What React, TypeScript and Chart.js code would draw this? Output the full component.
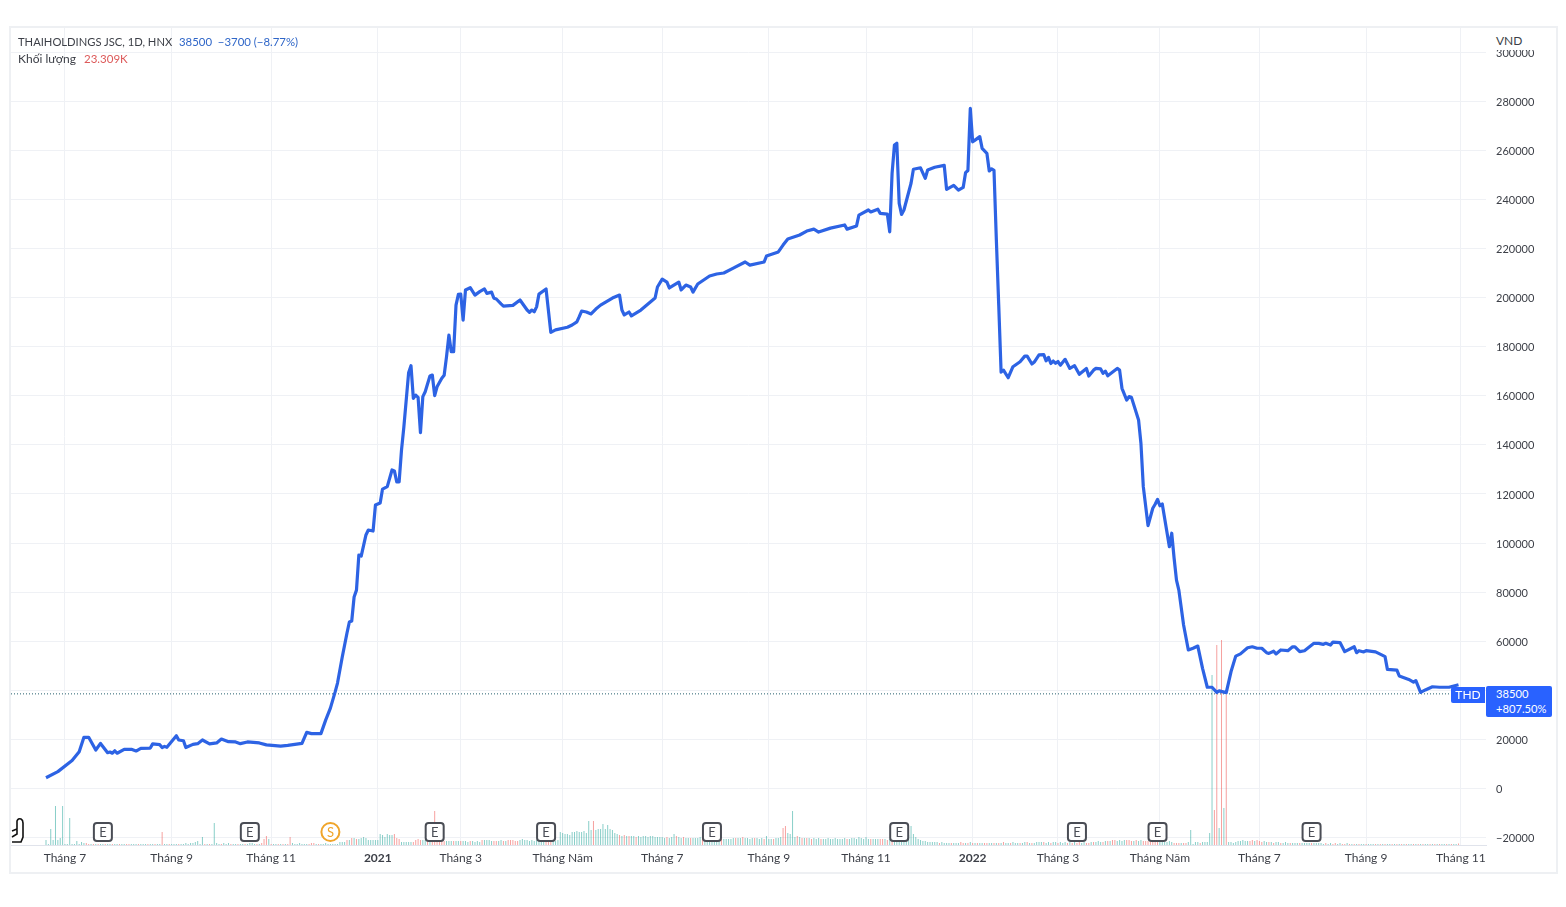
import { Chart, registerables } from "chart.js";
import { useEffect, useRef } from "react";

Chart.register(...registerables);

// giá đóng cửa: số thứ tự phiên và giá (VND)
const priceBars = [
  0, 5, 11, 14, 16, 18, 21, 23, 26, 27, 28, 29, 30, 33, 36, 38, 40, 44, 45, 48, 49, 50, 51, 55, 56, 58, 59, 62, 64, 66, 69, 72, 74, 77, 80, 82, 85, 90, 93, 99,
  102, 108, 110, 112, 116, 118, 120, 122, 123, 125, 127, 128, 129, 130, 131, 132, 133, 135, 136, 138, 139, 141, 142, 144, 146, 147, 148, 149, 150, 151, 153, 154, 155, 156, 157, 158, 159, 160, 162, 163,
  164, 165, 167, 168, 169, 170, 171, 172, 173, 174, 175, 176, 177, 179, 181, 183, 185, 186, 188, 189, 190, 192, 193, 197, 200, 203, 204, 205, 206, 207, 208, 211, 213, 215, 220, 222, 224, 225, 226, 228,
  230, 232, 234, 239, 242, 243, 244, 246, 247, 251, 257, 258, 260, 262, 263, 267, 268, 270, 272, 273, 275, 280, 283, 286, 290, 295, 297, 303, 304, 309, 311, 313, 318, 321, 324, 326, 331, 337, 338, 342,
  343, 347, 348, 351, 352, 355, 356, 357, 358, 359, 360, 361, 362, 365, 366, 369, 371, 372, 375, 379, 380, 383, 385, 387, 388, 389, 390, 391, 392, 394, 395, 397, 398, 399, 400, 401, 402, 403, 404, 406,
  408, 411, 413, 414, 416, 417, 419, 421, 422, 423, 424, 425, 426, 427, 428, 430, 432, 434, 436, 439, 440, 442, 443, 445, 446, 447, 448, 452, 453, 454, 456, 457, 458, 461, 462, 463, 465, 467, 468, 469,
  470, 471, 474, 475, 476, 477, 478, 480, 482, 484, 486, 488, 490, 492, 494, 495, 498, 500, 502, 504, 507, 509, 511, 513, 515, 516, 518, 519, 521, 524, 526, 527, 529, 531, 535, 537, 539, 540, 542, 543,
  546, 548, 552, 553, 554, 556, 557, 561, 564, 565, 566, 570, 571, 575, 577, 578, 580, 582, 585, 588, 592, 596,
];
const priceValues = [
  4300, 6800, 11300, 14900, 20800, 20800, 15600, 18300, 14500, 14800, 14300, 15300, 14300, 15900, 15900, 15200, 16300, 16400, 18100, 17800, 16600, 17100, 16700, 21400, 19700, 19400, 16600, 17900, 18200, 19700, 18100, 18500, 20100, 19000, 18900, 18200, 18900, 18500, 17700, 17200,
  17500, 18300, 22800, 22300, 22300, 27800, 32700, 39300, 42900, 53500, 63300, 67800, 68200, 78000, 80800, 95100, 94700, 103300, 105300, 104900, 115500, 116300, 122000, 123000, 129800, 129400, 124900, 124900, 137900, 147400, 169400, 172300, 159000, 160300, 159400, 145000, 159700, 161700, 168100, 168500,
  160100, 163700, 167200, 168400, 176000, 184800, 178000, 178000, 197000, 201400, 201500, 190900, 203200, 204100, 201100, 202500, 203600, 201800, 202300, 199800, 199500, 197500, 196600, 196900, 199100, 195000, 194100, 195000, 194300, 196300, 201500, 203600, 185900, 186900, 188000, 188900, 190200, 192300, 194600, 194200,
  193400, 195400, 197000, 199900, 201100, 195000, 193000, 194200, 192600, 195000, 199900, 204400, 207600, 206400, 204000, 206400, 203200, 205200, 204400, 202300, 205600, 208900, 209700, 210100, 212100, 214600, 213300, 214600, 217000, 218700, 221500, 224000, 225600, 227200, 228000, 226800, 228400, 229700, 228000, 229300,
  233700, 235800, 235000, 236100, 234400, 234100, 226900, 250700, 262300, 263000, 238500, 234000, 235800, 246700, 252400, 253000, 248700, 252100, 253200, 254000, 244200, 245800, 243900, 245000, 251000, 251900, 277200, 263600, 264300, 265700, 260900, 258900, 251700, 252600, 252000, 223500, 197000, 169700, 170500, 167400,
  171900, 173900, 176200, 176200, 173000, 173800, 176700, 176800, 174300, 175700, 173200, 174200, 173300, 174000, 172500, 174900, 171200, 172300, 168800, 171200, 168100, 170500, 171200, 171000, 169200, 170100, 168200, 171200, 170500, 163100, 158300, 159700, 159400, 150200, 140700, 123000, 107100, 114200, 115800, 117800,
  115200, 115900, 98500, 104000, 93800, 84900, 80800, 66600, 56400, 57100, 58000, 48900, 41200, 41200, 39100, 39700, 39000, 47500, 53900, 54800, 57300, 57700, 57100, 57100, 55300, 55000, 55900, 54800, 56400, 56100, 57700, 57700, 55700, 56100, 59100, 59100, 58700, 59100, 58400, 59600,
  59400, 55700, 57700, 55300, 56100, 55600, 56100, 55600, 54200, 53700, 48500, 48200, 45800, 44400, 43300, 43900, 39100, 40100, 41400, 41200, 41200, 42200,
];

// khối lượng theo từng phiên (nghìn cp), số âm là phiên giảm
const volumes = [
  75, 15, 240, 75, 585, 75, 105, 585, 15, 15,
  405, 15, 15, 60, 15, 45, 30, -30, -15, 15,
  -15, 15, -15, 15, 15, -15, 15, 15, -15, 15,
  15, -15, 15, 15, -15, -15, 15, 15, 15, -15,
  15, 15, 15, -15, 15, 15, -15, 15, 15, -195,
  15, 15, -15, 15, 15, 15, -15, 15, 15, 30,
  15, 30, 30, 45, 60, 15, 120, -15, 15, -15,
  15, 330, 30, 15, -15, 30, 15, 30, -15, 15,
  15, -15, 15, 15, -15, 15, 30, 30, 15, -15,
  15, -30, -90, -135, 90, -15, 15, 15, -15, 15,
  -15, 15, -15, -120, 30, 15, 15, 30, 15, 15,
  15, -15, -30, -30, 15, -15, 15, 15, 30, 15,
  15, 15, 15, 15, 45, 45, 45, -75, 75, -105,
  105, -90, 90, 105, 120, 105, 75, 75, 75, 75,
  75, 165, 150, 120, 165, 150, 150, -165, -105, -90,
  45, 45, 45, 45, 45, -45, -75, -90, -75, 75,
  75, -60, 60, -60, -510, -60, -60, -60, -60, 60,
  60, 60, -60, 60, 60, -60, 60, 60, 45, -60,
  60, 45, 60, 45, -75, 75, 75, 75, 60, -60,
  -60, 60, 75, -60, 60, -75, -75, -75, -60, -60,
  75, 90, 75, 75, 60, 75, 60, 75, 75, 60,
  60, -60, -60, -60, 60, 60, 75, 195, 180, 165,
  165, 150, 195, 195, 210, 195, 195, 210, 180, 360,
  225, -360, 225, 240, 240, 315, 240, 300, 240, 225,
  180, 165, -150, 135, -150, 135, -135, 135, 135, -120,
  135, 120, 135, 135, 120, 135, 135, 120, 120, 120,
  120, 105, -120, 105, 120, 165, -135, 120, 105, -120,
  105, 105, -105, 105, 105, 105, 120, -105, 105, 105,
  105, 90, 90, 90, 90, -90, 90, 90, 90, 90,
  105, -105, 105, 105, -120, 105, 105, 90, 105, -105,
  105, 90, 105, -90, 135, 90, 90, -90, 105, 105,
  120, -255, -285, 180, 165, 510, 120, -135, 120, -105,
  105, -105, 105, -90, 105, 90, 105, -90, 90, 90,
  105, 90, 90, 105, 90, 90, 90, 105, -90, 90,
  105, 105, 90, 120, 105, 90, 120, 90, -90, 90,
  90, 90, -90, -90, 90, -75, 90, -75, 75, 90,
  75, 75, 60, 90, 150, 285, 165, 120, 90, 75,
  60, 60, 45, 45, 45, 45, 45, -30, 45, 30,
  30, 30, -30, 30, 30, 30, -45, -30, 30, -30,
  45, -30, 30, -30, 30, 30, -30, -30, 30, 30,
  -30, 30, -30, 30, -45, 30, 30, -30, 45, 30,
  30, -30, 30, 45, -45, 30, -30, 30, 45, 45,
  45, -45, 30, 45, -30, 45, 45, -30, 45, 30,
  45, -30, 45, -30, 45, -30, -45, 30, 45, -30,
  -30, 45, -45, 45, 60, 45, -45, 60, -60, 60,
  -75, -75, 60, 75, 60, 75, -75, -75, -60, 60,
  -75, 60, 75, -60, -60, -60, -60, -60, -60, -60,
  45, 45, 45, 45, 60, 45, -30, -30, -30, 30,
  -30, -30, 45, 225, 15, 45, 45, -30, 45, 45,
  45, 180, 2550, -525, -3000, 255, -3075, 555, -2250, 45,
  45, 30, 45, 60, 60, 75, 60, 60, -60, -75,
  60, -75, -60, -45, 60, 45, -45, 45, -30, 45,
  45, -30, 30, 45, 30, -30, 30, 30, 30, -30,
  30, 30, 30, 30, -30, 30, 30, 30, 30, 15,
  -30, 15, 30, -15, -30, 15, 30, -15, -15, 30,
  -15, 15, -15, 15, -15, 15, 15, -15, 15, 15,
  15, -15, 15, -15, 15, -15, 15, 15, -15, 15,
  -15, 15, -15, 15, -15, 15, 15, -15, 15, -15,
  15, -15, 15, 15, -15, 15, -15, 15, -15, 15,
  15, -15, 15, -15, 15, 15, -23.309,
];

const xTickBars = [8, 53, 95, 140, 175, 218, 260, 305, 346, 391, 427, 470, 512, 557, 597];
const xTickLabels = ["Tháng 7", "Tháng 9", "Tháng 11", "2021", "Tháng 3", "Tháng Năm", "Tháng 7", "Tháng 9", "Tháng 11", "2022", "Tháng 3", "Tháng Năm", "Tháng 7", "Tháng 9", "Tháng 11"];
const yTicks = [-20000, 0, 20000, 40000, 60000, 80000, 100000, 120000, 140000, 160000, 180000, 200000, 220000, 240000, 260000, 280000, 300000];

const earningsBars = [24, 86, 164, 211, 281, 360, 435, 469, 534];
const splitBars = [120];

const lastPrice = 38500;
const xMin = -14.77;
const xMax = 607.6;

const FONT = 'Lato, "Noto Sans", sans-serif';
const BLUE = "#2962ff";

// vẽ các nhãn sự kiện E và S trên trục thời gian
const eventsPlugin = {
  id: "events",
  afterDatasetsDraw(chart: any) {
    const { ctx, chartArea, scales } = chart;
    const cy = chartArea.bottom - 13;
    ctx.save();
    ctx.textAlign = "center";
    ctx.textBaseline = "middle";
    ctx.font = `13px ${FONT}`;
    earningsBars.forEach((b) => {
      const cx = scales.x.getPixelForValue(b);
      ctx.beginPath();
      ctx.roundRect(cx - 9, cy - 9, 18, 18, 3);
      ctx.fillStyle = "#fff";
      ctx.fill();
      ctx.lineWidth = 2;
      ctx.strokeStyle = "#4a4d55";
      ctx.stroke();
      ctx.fillStyle = "#4a4d55";
      ctx.fillText("E", cx, cy + 0.5);
    });
    splitBars.forEach((b) => {
      const cx = scales.x.getPixelForValue(b);
      ctx.beginPath();
      ctx.arc(cx, cy, 9, 0, Math.PI * 2);
      ctx.fillStyle = "#fff";
      ctx.fill();
      ctx.lineWidth = 2;
      ctx.strokeStyle = "#f0a52a";
      ctx.stroke();
      ctx.fillStyle = "#f0a52a";
      ctx.fillText("S", cx, cy + 0.5);
    });
    ctx.restore();
  },
};

export default function App() {
  const canvasRef = useRef<HTMLCanvasElement | null>(null);

  useEffect(() => {
    const chart = new Chart(canvasRef.current!, {
      type: "line",
      data: {
        datasets: [
          {
            type: "line",
            data: priceBars.map((b, i) => ({ x: b, y: priceValues[i] })),
            borderColor: "#2d63e4",
            borderWidth: 3.2,
            pointRadius: 0,
            tension: 0,
            borderJoinStyle: "round",
            order: 1,
          },
          {
            type: "line",
            data: [
              { x: xMin, y: lastPrice },
              { x: xMax, y: lastPrice },
            ],
            borderColor: "#26606e",
            borderWidth: 1,
            borderDash: [1, 2],
            pointRadius: 0,
            order: 2,
          },
          {
            type: "bar",
            data: volumes.map((v, i) => ({ x: i, y: Math.abs(v) })),
            yAxisID: "yVol",
            backgroundColor: volumes.map((v) => (v < 0 ? "rgba(239,83,80,0.55)" : "rgba(38,166,154,0.55)")),
            barThickness: 1,
            inflateAmount: 0,
            order: 3,
          },
        ] as any,
      },
      options: {
        responsive: false,
        animation: false,
        devicePixelRatio: 1,
        layout: { padding: { left: 11, top: 28, right: 11, bottom: 36 } },
        plugins: { legend: { display: false }, tooltip: { enabled: false } },
        scales: {
          x: {
            type: "linear",
            offset: false,
            min: xMin,
            max: xMax,
            afterBuildTicks: (axis: any) => {
              axis.ticks = xTickBars.map((value) => ({ value }));
            },
            afterFit: (axis: any) => {
              axis.height = 26;
            },
            grid: { color: "#eff1f5", drawTicks: false, offset: false },
            border: { color: "#e0e3eb" },
            ticks: {
              autoSkip: false,
              maxRotation: 0,
              padding: 6,
              callback: (value: any) => xTickLabels[xTickBars.indexOf(value)],
              color: "#3c3f47",
              font: (c: any) => {
                const label = xTickLabels[c.index];
                return { family: FONT, size: 12, weight: label === "2021" || label === "2022" ? "bold" : "normal" };
              },
            },
          },
          y: {
            position: "right",
            min: -23120,
            max: 310000,
            afterBuildTicks: (axis: any) => {
              axis.ticks = yTicks.map((value) => ({ value }));
            },
            afterFit: (axis: any) => {
              axis.width = 69;
            },
            grid: { color: "#eff1f5", drawTicks: false },
            border: { display: false },
            ticks: {
              padding: 10,
              labelOffset: 1,
              color: "#3c3f47",
              font: { family: FONT, size: 11 },
              callback: (value: any) => String(value).replace("-", "\u2212"),
            },
          },
          yVol: {
            display: false,
            min: 0,
            max: 12255,
          },
        },
      } as any,
      plugins: [eventsPlugin],
    });
    return () => chart.destroy();
  }, []);

  const text: React.CSSProperties = { position: "absolute", whiteSpace: "pre", fontFamily: FONT, fontSize: 12, lineHeight: "16px", color: "#3c3f47" };

  return (
    <div style={{ position: "absolute", left: 0, top: 0, width: 1566, height: 907, background: "#fff", overflow: "hidden" }}>
      <canvas ref={canvasRef} width={1566} height={907} style={{ position: "absolute", left: 0, top: 0, display: "block" }} />
      <div style={{ position: "absolute", left: 9, top: 26, width: 1545, height: 844, border: "2px solid #eef0f3" }} />

      <div style={{ ...text, left: 18, top: 34, fontSize: 11.2 }}>THAIHOLDINGS JSC, 1D, HNX</div>
      <div style={{ ...text, left: 179, top: 34, fontSize: 11.4, color: "#2f66c8" }}>{"38500  \u22123700 (\u22128.77%)"}</div>
      <div style={{ ...text, left: 18, top: 51 }}>Khối lượng</div>
      <div style={{ ...text, left: 84, top: 51, fontSize: 11.5, color: "#dd5a5a" }}>23.309K</div>

      <div style={{ ...text, left: 1490, top: 33, width: 50, paddingLeft: 6, height: 17, background: "#fff" }}>VND</div>

      <div style={{ ...text, left: 1451, top: 687, width: 34, height: 16, background: BLUE, color: "#fff", textAlign: "center", borderRadius: "2px 0 0 2px" }}>THD</div>
      <div style={{ ...text, left: 1486, top: 686, width: 66, height: 31, background: BLUE, color: "#fff", borderRadius: 2, fontSize: 11.2 }}>
        <div style={{ paddingLeft: 10, lineHeight: "15px" }}>38500</div>
        <div style={{ paddingLeft: 10, lineHeight: "15px" }}>+807.50%</div>
      </div>

      <svg style={{ position: "absolute", left: 10, top: 817 }} width={16} height={28} viewBox="0 0 16 28">
        <path d="M2 14 L7 12 L7 4 Q8 1 11 2 Q13 3 13 6 L13 20 L11 25 L2 25 M7 12 L7 17 L2 20" fill="#fff" stroke="#111" strokeWidth={1.6} />
      </svg>
    </div>
  );
}
